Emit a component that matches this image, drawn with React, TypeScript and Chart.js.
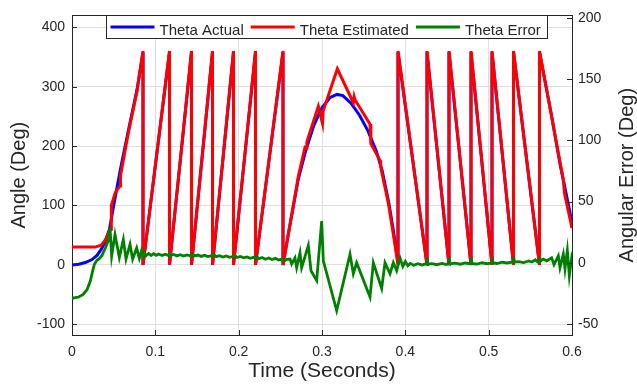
import React, { useEffect, useRef } from 'react';
import { Chart, registerables } from 'chart.js';

Chart.register(...registerables);

// ---- data (time in seconds) ----
const actualT = [0, 0.008, 0.016, 0.024, 0.03, 0.035, 0.04, 0.045, 0.05, 0.058, 0.067, 0.078, 0.0852,
  0.0852, 0.117, 0.117, 0.1434, 0.1434, 0.1686, 0.1686, 0.1938, 0.1938, 0.2202, 0.2202, 0.2532, 0.2532,
  0.26, 0.2716, 0.28, 0.29, 0.3, 0.31, 0.318, 0.325, 0.335, 0.345, 0.355, 0.365, 0.372, 0.38, 0.386, 0.3912,
  0.3912, 0.426, 0.426, 0.4524, 0.4524, 0.4788, 0.4788, 0.504, 0.504, 0.5298, 0.5298, 0.561, 0.561, 0.575, 0.5856, 0.5976, 0.6];
const actualV = [0, 1, 4, 9, 16, 26, 40, 60, 100, 160, 222, 295, 358,
  0, 358, 0, 358, 0, 358, 0, 358, 0, 358, 0, 358, 0,
  55, 145, 190, 234, 265, 282, 287, 285, 272, 252, 226, 192, 160, 106, 55, 2,
  358, 0, 358, 0, 358, 0, 358, 0, 358, 0, 358, 0, 358, 255, 170, 88, 68];

const estT = [0, 0.0276, 0.035, 0.04, 0.0456, 0.0468, 0.0472, 0.052, 0.0576, 0.0582, 0.067, 0.078, 0.0852,
  0.0852, 0.117, 0.117, 0.1434, 0.1434, 0.1686, 0.1686, 0.1938, 0.1938, 0.2202, 0.2202, 0.2532, 0.2532,
  0.2716, 0.2796, 0.2812, 0.2818, 0.2956, 0.3006, 0.3014, 0.3184, 0.3376, 0.3386, 0.3396, 0.3576, 0.3586, 0.3696, 0.3704, 0.3796, 0.3896, 0.3912,
  0.3912, 0.426, 0.426, 0.4524, 0.4524, 0.4788, 0.4788, 0.504, 0.504, 0.5298, 0.5298, 0.561, 0.561, 0.59, 0.5908, 0.6];
const estV = [30, 30, 33, 42, 58, 60, 100, 122, 133, 150, 218, 292, 360,
  0, 360, 0, 360, 0, 360, 0, 360, 0, 360, 0, 360, 0,
  149, 198, 197, 207, 267, 238, 259, 330, 273, 283, 278, 237, 204, 176, 165, 104, 16, 0,
  360, 0, 360, 0, 360, 0, 360, 0, 360, 0, 360, 0, 360, 140, 122, 62];

const errT = [0, 0.008, 0.013, 0.018, 0.022, 0.025, 0.027, 0.03, 0.033, 0.036, 0.04, 0.0435, 0.0456, 0.0476, 0.0516, 0.0568,
  0.0616, 0.0648, 0.0696, 0.0728, 0.0776, 0.0808, 0.0836, 0.0852, 0.0868, 0.089, 0.092, 0.095, 0.098, 0.101, 0.104, 0.108,
  0.112, 0.1155, 0.117, 0.1185, 0.122, 0.126, 0.13, 0.134, 0.138, 0.1434, 0.1448, 0.147, 0.151, 0.155, 0.159, 0.163,
  0.1686, 0.17, 0.173, 0.177, 0.181, 0.185, 0.189, 0.1938, 0.1952, 0.198, 0.202, 0.206, 0.21, 0.214, 0.218, 0.2202,
  0.2216, 0.224, 0.228, 0.232, 0.236, 0.24, 0.244, 0.248, 0.2532, 0.2548, 0.258, 0.2616, 0.2636, 0.2676, 0.2696, 0.2736,
  0.2756, 0.2836, 0.2868, 0.2936, 0.2996, 0.3016, 0.3176, 0.3336, 0.3376, 0.3416, 0.3576, 0.3616, 0.3716, 0.3756, 0.3816, 0.3856,
  0.3896, 0.3936, 0.397, 0.4, 0.403, 0.406, 0.41, 0.415, 0.42, 0.424, 0.426, 0.4264, 0.4268, 0.432, 0.438, 0.444,
  0.449, 0.4524, 0.4528, 0.4532, 0.46, 0.466, 0.472, 0.4788, 0.4792, 0.4796, 0.486, 0.492, 0.498, 0.504, 0.5044, 0.5048,
  0.51, 0.516, 0.522, 0.5298, 0.5302, 0.5306, 0.536, 0.542, 0.548, 0.552, 0.556, 0.5585, 0.561, 0.5614, 0.5618, 0.5655,
  0.5696, 0.5756, 0.5784, 0.5836, 0.5856, 0.5896, 0.5916, 0.5944, 0.5968, 0.5996, 0.6];
const errV = [-29, -28, -26, -22, -15, -6, -1, 2, 3.5, 6, 12, 18, 28.5, 5.6, 23, 4.3,
  19, 3, 15, 3, 12, 3.5, 10, 5.5, 8.2, 5.8, 7.6, 6, 7.4, 6.1, 7.2, 6,
  7, 5.9, 7.6, 6, 6.8, 5.6, 6.6, 5.5, 6.4, 5.4, 7, 5.6, 6.3, 5.2, 6.1, 5,
  5.9, 6.8, 5, 5.8, 4.7, 5.6, 4.5, 5.3, 6.2, 4.3, 5.1, 4, 4.8, 3.7, 4.5, 3.6,
  5.2, 3.3, 4.2, 2.9, 3.9, 2.6, 3.6, 2.3, 3.2, 1.5, 2.8, 3, -1, 4, -4, 8,
  -4, 14, -6.5, -14.5, 34, 1.6, -39, 7, -9, 0, -28, 0, -21, 0, -9, 0,
  -6.5, 4, -3, 1, -2.5, -0.5, -2, -0.8, -1.8, -0.9, -1.6, 4.5, -1.2, -0.7, -1.6, -0.6,
  -1.4, -0.8, 4.6, -1, -0.3, -1.2, -0.2, -0.9, 4.6, -0.6, -1.1, 0, -0.8, -0.1, 4.8, 0,
  -0.6, 0.5, -0.2, 0.7, 5, 0.5, 0.9, 0.2, 1.5, 0.6, 2.4, 0.8, 2, 5, 1.2, 3,
  1.6, 4, -1.6, 5.6, -4, 7, -5, 10, -10.5, 4, 3];

const seriesLabels = ['Theta Actual', 'Theta Estimated', 'Theta Error'];
const xTicks = [0, 0.1, 0.2, 0.3, 0.4, 0.5, 0.6];
const angleTicks = [-100, 0, 100, 200, 300, 400];
const errorTicks = [-50, 0, 50, 100, 150, 200];

const FONT = "'Liberation Sans', Arial, Helvetica, sans-serif";
const INK = '#262626';
const BLUE = '#0000ff';
const RED = '#ff0000';
const GREEN = '#008000';
const GRID = '#dfdfdf';

export default function App() {
  const ref = useRef<HTMLCanvasElement>(null);

  useEffect(() => {
    document.body.style.margin = '0';
    const pts = (t: number[], v: number[]) => t.map((x, i) => ({ x, y: v[i] }));

    const decor = {
      id: 'decor',
      afterDraw(chart: any) {
        const { ctx, chartArea: a, scales } = chart;
        ctx.save();
        ctx.strokeStyle = INK;
        ctx.lineWidth = 1;
        // top frame line
        ctx.beginPath();
        ctx.moveTo(a.left, Math.round(a.top) + 0.5);
        ctx.lineTo(a.right, Math.round(a.top) + 0.5);
        ctx.stroke();
        // inward tick marks
        ctx.beginPath();
        for (const v of angleTicks) {
          const y = Math.round(scales.y.getPixelForValue(v)) + 0.5;
          ctx.moveTo(a.left, y); ctx.lineTo(a.left + 5, y);
        }
        for (const v of errorTicks) {
          const y = Math.round(scales.y1.getPixelForValue(v)) + 0.5;
          ctx.moveTo(a.right - 5, y); ctx.lineTo(a.right, y);
        }
        for (const v of xTicks) {
          const x = Math.round(scales.x.getPixelForValue(v)) + 0.5;
          ctx.moveTo(x, a.bottom); ctx.lineTo(x, a.bottom - 5);
        }
        ctx.stroke();

        // right axis title (reads bottom to top)
        ctx.save();
        ctx.translate(chart.width - 10, (a.top + a.bottom) / 2);
        ctx.rotate(-Math.PI / 2);
        ctx.font = `20px ${FONT}`;
        ctx.fillStyle = INK;
        ctx.textAlign = 'center';
        ctx.textBaseline = 'middle';
        ctx.fillText('Angular Error (Deg)', 0, 0);
        ctx.restore();

        // legend box inside the plot
        const items: [string, string][] = [[seriesLabels[0], BLUE], [seriesLabels[1], RED], [seriesLabels[2], GREEN]];
        ctx.font = `15px ${FONT}`;
        const lineLen = 44, gapA = 5, gapB = 7, padL = 4, padR = 7;
        let w = padL + padR + gapB * (items.length - 1);
        for (const [t] of items) w += lineLen + gapA + ctx.measureText(t).width;
        const bx = Math.round(a.left + 34) + 0.5;
        const by = Math.round(a.top) + 0.5;
        const bh = 23;
        ctx.fillStyle = '#ffffff';
        ctx.fillRect(bx, by, w, bh);
        ctx.strokeStyle = INK;
        ctx.lineWidth = 1;
        ctx.strokeRect(bx, by, Math.round(w), bh);
        let x = bx + padL;
        for (const [t, c] of items) {
          ctx.strokeStyle = c;
          ctx.lineWidth = 3;
          ctx.beginPath();
          ctx.moveTo(x, by + 11.5);
          ctx.lineTo(x + lineLen, by + 11.5);
          ctx.stroke();
          x += lineLen + gapA;
          ctx.fillStyle = INK;
          ctx.textAlign = 'left';
          ctx.textBaseline = 'alphabetic';
          ctx.fillText(t, x, by + 19.5);
          x += ctx.measureText(t).width + gapB;
        }
        ctx.restore();
      },
    };

    const tickFont = { family: FONT, size: 14 };
    const chart = new Chart(ref.current as HTMLCanvasElement, {
      type: 'line',
      data: {
        datasets: [
          { label: seriesLabels[2], data: pts(errT, errV), yAxisID: 'y1', borderColor: GREEN, backgroundColor: GREEN, borderWidth: 2.8, order: 0 },
          { label: seriesLabels[1], data: pts(estT, estV), yAxisID: 'y', borderColor: RED, backgroundColor: RED, borderWidth: 3, order: 1 },
          { label: seriesLabels[0], data: pts(actualT, actualV), yAxisID: 'y', borderColor: BLUE, backgroundColor: BLUE, borderWidth: 3, order: 2 },
        ],
      },
      options: {
        responsive: false,
        animation: false,
        events: [],
        layout: { padding: { top: 10, left: 0, right: 0, bottom: 0 } },
        elements: { point: { radius: 0 }, line: { tension: 0 } },
        plugins: { legend: { display: false }, tooltip: { enabled: false } },
        scales: {
          x: {
            type: 'linear', min: 0, max: 0.6,
            afterBuildTicks: (s: any) => { s.ticks = xTicks.map((value) => ({ value })); },
            afterFit: (s: any) => { s.height = 52; },
            ticks: {
              font: tickFont, color: INK, padding: 9, maxRotation: 0,
              callback: (v: any) => (Number(v) === 0 ? '0' : Number(v).toFixed(1)),
            },
            grid: { color: GRID, drawTicks: false },
            border: { color: INK },
            title: { display: true, text: 'Time (Seconds)', font: { family: FONT, size: 21 }, color: INK, padding: { top: 0, bottom: 3 } },
          },
          y: {
            type: 'linear', position: 'left', min: -118, max: 420,
            afterBuildTicks: (s: any) => { s.ticks = angleTicks.map((value) => ({ value })); },
            afterFit: (s: any) => { s.width = 72; },
            ticks: { font: tickFont, color: INK, padding: 7 },
            grid: { color: GRID, drawTicks: false },
            border: { color: INK },
            title: { display: true, text: 'Angle (Deg)', font: { family: FONT, size: 20 }, color: INK, padding: { top: 7, bottom: 0 } },
          },
          y1: {
            type: 'linear', position: 'right', min: -59, max: 202,
            afterBuildTicks: (s: any) => { s.ticks = errorTicks.map((value) => ({ value })); },
            afterFit: (s: any) => { s.width = 65; },
            ticks: { font: tickFont, color: INK, padding: 6 },
            grid: { display: false, drawTicks: false },
            border: { color: INK },
          },
        },
      } as any,
      plugins: [decor],
    });
    return () => chart.destroy();
  }, []);

  return (
    <div style={{ width: 637, height: 387 }}>
      <canvas ref={ref} width={637} height={387} style={{ display: 'block' }} />
    </div>
  );
}
